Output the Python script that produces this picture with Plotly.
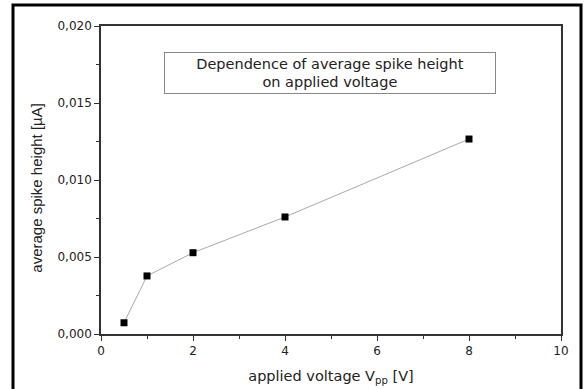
import plotly.graph_objects as go

voltage = [0.5, 1, 2, 4, 8]
spike_height = [0.00073, 0.00377, 0.00528, 0.0076, 0.01266]
box_text = "Dependence of average spike height<br>on applied voltage"
x_title = "applied voltage V<sub>pp</sub> [V]"
y_title = "average spike height [µA]"

fig = go.Figure()
fig.add_trace(go.Scatter(
    x=voltage, y=spike_height, mode="lines+markers",
    line=dict(color="#aaaaaa", width=1),
    marker=dict(symbol="square", size=7, color="black"),
    showlegend=False,
))

font = "DejaVu Sans, Verdana, sans-serif"
axis_common = dict(
    showline=True, linecolor="#333333", linewidth=1.5, mirror=True,
    ticks="outside", ticklen=5, tickwidth=1, tickcolor="#333333",
    showgrid=False, zeroline=False, automargin=False,
    tickfont=dict(family=font, size=12, color="#222222"),
)
fig.update_layout(
    width=588, height=389,
    margin=dict(l=101, r=27, t=26, b=55),
    paper_bgcolor="white", plot_bgcolor="white",
    separators=",.",
    font=dict(family=font, color="#222222"),
    xaxis=dict(range=[0, 10], dtick=2, tick0=0,
               minor=dict(ticks="outside", ticklen=3, dtick=1, tickcolor="#333333"),
               title=dict(text=x_title, font=dict(size=14.5), standoff=14),
               **axis_common),
    yaxis=dict(range=[0, 0.02], dtick=0.005, tick0=0, tickformat=".3f",
               minor=dict(ticks="outside", ticklen=3, dtick=0.0025, tickcolor="#333333"),
               **axis_common),
)
# y-axis title placed as rotated text
fig.add_annotation(
    x=-0.142, y=0.474, xref="paper", yref="paper", xanchor="center", yanchor="middle",
    text=y_title, showarrow=False, textangle=-90,
    font=dict(family="Liberation Sans, Arial, sans-serif", size=15, color="#222222"),
)
fig.add_annotation(
    x=0.498, y=0.849, xref="paper", yref="paper", xanchor="center", yanchor="middle",
    text=box_text, showarrow=False, align="center",
    font=dict(family=font, size=14.5, color="#222222"),
    bordercolor="#888888", borderwidth=1, borderpad=1,
    width=328, height=38, bgcolor="white",
)
fig.add_shape(type="rect", xref="paper", yref="paper",
              x0=-0.1913, x1=1.0435, y0=-0.2, y1=1.068,
              line=dict(color="black", width=3))

fig.write_html("out.html")
